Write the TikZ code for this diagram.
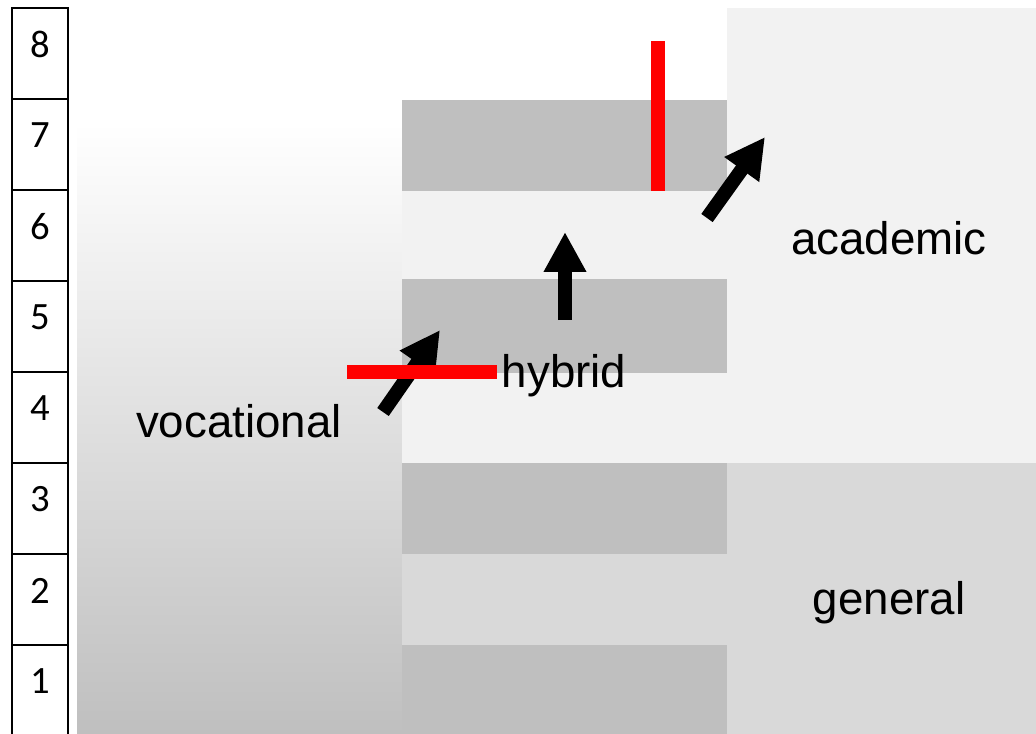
\documentclass[tikz,border=0pt]{standalone}
\usepackage{fontspec}
\setmainfont{Liberation Sans}
\newfontfamily\digitfont{Carlito}
\usetikzlibrary{arrows.meta}

\definecolor{bandDark}{HTML}{BFBFBF}
\definecolor{bandMid}{HTML}{D9D9D9}
\definecolor{bandLight}{HTML}{F2F2F2}
\definecolor{stopRed}{HTML}{FF0000}

\begin{document}
\begin{tikzpicture}[x=0.02cm,y=-0.02cm,
    levelbox/.style={draw,line width=1.1pt,minimum width=1.12cm,minimum height=1.82cm,inner sep=0pt},
    levelnum/.style={inner sep=0pt,font=\digitfont\fontsize{22}{26}\selectfont},
    track/.style={font=\fontsize{26}{30}\selectfont,inner sep=0pt},
    move/.style={line width=0.28cm,-{Triangle[length=0.8cm,width=0.8cm]}},
    barrier/.style={stopRed,line width=0.27cm}]
  \useasboundingbox (0,0) rectangle (1036,734);

  % vocational track fades in from the top
  \shade[top color=white,bottom color=bandDark] (77,123) rectangle (402,734);

  % hybrid track, level by level
  \fill[bandDark]  (402,100) rectangle (727,191);
  \fill[bandLight] (402,191) rectangle (727,279);
  \fill[bandDark]  (402,279) rectangle (727,373);
  \fill[bandLight] (402,373) rectangle (727,463);
  \fill[bandDark]  (402,463) rectangle (727,554);
  \fill[bandMid]   (402,554) rectangle (727,645);
  \fill[bandDark]  (402,645) rectangle (727,734);

  % academic and general tracks
  \fill[bandLight] (727,8) rectangle (1036,463);
  \fill[bandMid]   (727,463) rectangle (1036,734);

  % levels 1..8
  \foreach \n in {1,...,8} {
    \node[levelbox] (lvl\n) at (40,{53.5+(8-\n)*91}) {};
    \node[levelnum] at ([yshift=0.18cm]lvl\n.center) {\n};
  }

  \node[track] (voc) at (239,421) {vocational};
  \node[track] (hyb) at (564,376) {hybrid};
  \node[track] (aca) at (889,238) {academic};
  \node[track] (gen) at (889,603) {general};

  % moves between tracks
  \coordinate (m1a) at (383,412); \coordinate (m1b) at (440,330);
  \coordinate (m2a) at (565,320); \coordinate (m2b) at (565,232);
  \coordinate (m3a) at (707,218); \coordinate (m3b) at (765,137);
  \draw[move] (m1a) -- (m1b);
  \draw[move] (m2a) -- (m2b);
  \draw[move] (m3a) -- (m3b);

  % blocked paths
  \coordinate (b1a) at (347,372); \coordinate (b1b) at (497,372);
  \coordinate (b2a) at (658,41);  \coordinate (b2b) at (658,191);
  \draw[barrier] (b1a) -- (b1b);
  \draw[barrier] (b2a) -- (b2b);
\end{tikzpicture}
\end{document}
